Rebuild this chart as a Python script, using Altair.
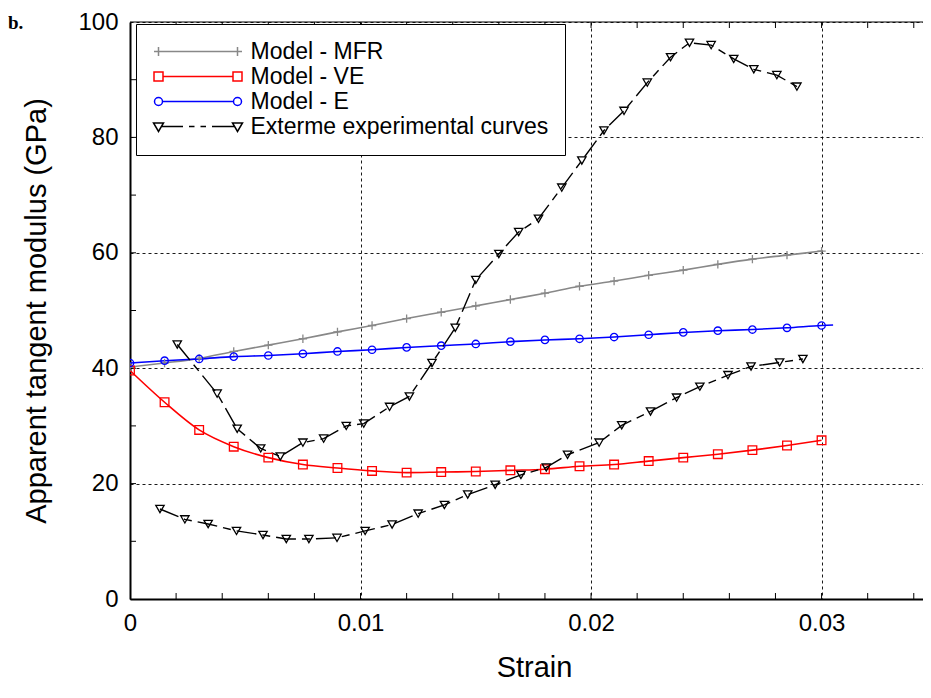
import altair as alt
import pandas as pd

# ---------------- data ----------------
strain_model = [0.0, 0.0015, 0.003, 0.0045, 0.006, 0.0075, 0.009, 0.0105, 0.012, 0.0135,
                0.015, 0.0165, 0.018, 0.0195, 0.021, 0.0225, 0.024, 0.0255, 0.027, 0.0285, 0.030]
model_mfr = [40.2, 40.9, 41.7, 42.9, 44.0, 45.1, 46.3, 47.4, 48.6, 49.7,
             50.8, 51.9, 53.0, 54.2, 55.1, 56.1, 57.0, 58.0, 58.9, 59.6, 60.3]
model_ve = [39.6, 34.1, 29.3, 26.4, 24.5, 23.3, 22.7, 22.2, 21.9, 22.0,
            22.1, 22.3, 22.5, 23.0, 23.3, 23.9, 24.5, 25.1, 25.8, 26.6, 27.5]
model_e = [40.9, 41.3, 41.6, 42.0, 42.2, 42.5, 42.9, 43.2, 43.6, 43.9,
           44.2, 44.6, 44.9, 45.1, 45.4, 45.8, 46.2, 46.5, 46.7, 47.0, 47.4]
model_e_tail_strain = [0.0305]
model_e_tail = [47.5]

exp_upper_strain = [0.00205, 0.00378, 0.00465, 0.00567, 0.00652, 0.0075, 0.0084, 0.00938,
                    0.01014, 0.01126, 0.01212, 0.0131, 0.01411, 0.0150, 0.0160, 0.01686,
                    0.01772, 0.01873, 0.0196, 0.02056, 0.02143, 0.02244, 0.02345, 0.02427,
                    0.02521, 0.02619, 0.02706, 0.02806, 0.02893]
exp_upper = [44.1, 35.6, 29.5, 26.1, 24.7, 27.1, 27.8, 30.0,
             30.4, 33.3, 35.1, 40.9, 47.0, 55.3, 59.8, 63.6,
             65.9, 71.3, 76.0, 81.2, 84.6, 89.5, 93.9, 96.4,
             96.0, 93.6, 91.8, 90.8, 88.8]

exp_lower_strain = [0.0013, 0.00238, 0.00339, 0.00462, 0.00577, 0.00678, 0.00776, 0.00898,
                    0.0102, 0.01137, 0.0125, 0.01364, 0.01465, 0.01584, 0.01696, 0.01806,
                    0.01898, 0.02035, 0.02133, 0.02258, 0.02371, 0.02472, 0.02594, 0.02694,
                    0.02818, 0.02919]
exp_lower = [15.6, 13.8, 13.0, 11.8, 11.1, 10.4, 10.4, 10.6,
             11.8, 12.9, 14.8, 16.3, 18.1, 19.8, 21.5, 22.8,
             25.0, 27.1, 30.1, 32.5, 34.9, 36.8, 38.8, 40.3,
             41.0, 41.6]

series_names = ["Model - MFR", "Model - VE", "Model - E", "Exterme experimental curves"]
series_colors = ["#888888", "#ff0000", "#0000ff", "#000000"]
series_curves = [["mfr"], ["ve"], ["e"], ["exp_upper", "exp_lower"]]

x_ticks = [0, 0.01, 0.02, 0.03]
y_ticks = [0, 20, 40, 60, 80, 100]
x_minor = [0.002, 0.004, 0.006, 0.008, 0.01, 0.012, 0.014, 0.016, 0.018, 0.02,
           0.022, 0.024, 0.026, 0.028, 0.03, 0.032, 0.034]
y_minor = [10, 20, 30, 40, 50, 60, 70, 80, 90]

# ---------------- tables ----------------
rows = []
def add(xs, ys, series, curve, marker=True):
    for x, y in zip(xs, ys):
        rows.append({"strain": x, "modulus": y, "series": series, "curve": curve, "marker": marker})

add(strain_model, model_mfr, series_names[0], "mfr")
add(strain_model, model_ve, series_names[1], "ve")
add(strain_model, model_e, series_names[2], "e")
add(model_e_tail_strain, model_e_tail, series_names[2], "e", marker=False)
add(exp_upper_strain, exp_upper, series_names[3], "exp_upper")
add(exp_lower_strain, exp_lower, series_names[3], "exp_lower")
df = pd.DataFrame(rows)
label_df = pd.DataFrame({"label": ["b."]})

W, H = 793, 577
FONT = "Liberation Sans, Arial, Helvetica, sans-serif"

x_scale = alt.Scale(domain=[0, 0.0344], nice=False, zero=False)
y_scale = alt.Scale(domain=[0, 100], nice=False)

x_axis = alt.Axis(values=x_ticks, format="~g", title="Strain", ticks=False, labelFlush=False,
                  labelPadding=12, titleX=404, titleY=77, titleAlign="center",
                  titleBaseline="alphabetic", titleAngle=0)
y_axis = alt.Axis(values=y_ticks, format="d", title="Apparent tangent modulus (GPa)",
                  ticks=False, labelFlush=False, labelPadding=12, titleX=-85, titleY=H / 2,
                  titleAlign="center", titleBaseline="alphabetic", titleAngle=270)

X = alt.X("strain:Q", scale=x_scale, axis=x_axis)
Y = alt.Y("modulus:Q", scale=y_scale, axis=y_axis)

base = alt.Chart(df)

line_layers = []
for name, col, curves in zip(series_names, series_colors, series_curves):
    sub = base.transform_filter(alt.FieldOneOfPredicate(field="curve", oneOf=curves))
    if name.startswith("Model"):
        ln = sub.mark_line(interpolate="monotone", strokeWidth=1.6, color=col, clip=True)
    else:
        ln = sub.mark_line(strokeWidth=1.4, color=col, strokeDash=[20, 6, 8, 6], clip=True)
    line_layers.append(ln.encode(x=X, y=Y, detail="curve:N"))

marker_shapes = ["M-1,0L1,0M0,-1L0,1", "square", "circle", "triangle-down"]
marker_sizes = [70, 75, 55, 70]
marker_layers = []
for name, col, shp, sz in zip(series_names, series_colors, marker_shapes, marker_sizes):
    marker_layers.append(
        base.transform_filter(
            (alt.datum.series == name) & (alt.datum.marker == True)
        ).mark_point(shape=shp, size=sz, filled=False, color=col, strokeWidth=1.3,
                     opacity=1, clip=True).encode(x=X, y=Y)
    )

# legend symbols: a line with a marker at each end (unit = 10 px at symbolSize 400)
legend_paths = [
    "M-3.95,0L3.95,0M-3.95,-0.45L-3.95,0.45M-4.4,0L-3.5,0M3.95,-0.45L3.95,0.45M3.5,0L4.4,0",
    "M-3.5,0L3.5,0M-4.4,-0.45L-3.5,-0.45L-3.5,0.45L-4.4,0.45ZM3.5,-0.45L4.4,-0.45L4.4,0.45L3.5,0.45Z",
    "M-3.55,0L3.55,0M-3.55,0A0.4,0.4 0 1,1 -4.35,0A0.4,0.4 0 1,1 -3.55,0M4.35,0A0.4,0.4 0 1,1 3.55,0A0.4,0.4 0 1,1 4.35,0",
    "M-4.45,-0.35L-3.45,-0.35L-3.95,0.5ZM3.45,-0.35L4.45,-0.35L3.95,0.5ZM-3.6,0L-1.5,0M-0.9,0L-0.35,0M0.25,0L0.8,0M1.4,0L3.6,0",
]
legend_layer = base.mark_point(opacity=0, filled=False).encode(
    x=X, y=Y,
    color=alt.Color("series:N", scale=alt.Scale(domain=series_names, range=series_colors),
                    legend=alt.Legend(title=None)),
    shape=alt.Shape("series:N", scale=alt.Scale(domain=series_names, range=legend_paths),
                    legend=alt.Legend(title=None)),
)

tick_df = pd.DataFrame({"strain": x_minor})
ytick_df = pd.DataFrame({"modulus": y_minor})
xt_bottom = alt.Chart(tick_df).mark_rule(color="black", strokeWidth=1).encode(
    x=X, y=alt.value(H - 6), y2=alt.value(H))
xt_top = alt.Chart(tick_df).mark_rule(color="black", strokeWidth=1).encode(
    x=X, y=alt.value(0), y2=alt.value(6))
yt_left = alt.Chart(ytick_df).mark_rule(color="black", strokeWidth=1).encode(
    y=Y, x=alt.value(0), x2=alt.value(6))
top_border = alt.Chart(label_df).mark_rule(color="black", strokeWidth=1.2).encode(
    x=alt.value(0), x2=alt.value(W), y=alt.value(0))

panel_label = alt.Chart(label_df).mark_text(
    font="Liberation Serif, Times New Roman, serif", fontWeight="bold", fontSize=19,
    align="left", baseline="alphabetic", color="black"
).encode(x=alt.value(-122), y=alt.value(7), text="label:N")

chart = alt.layer(
    xt_bottom, xt_top, yt_left, top_border, *line_layers, *marker_layers, legend_layer, panel_label
).properties(
    width=W, height=H,
    autosize=alt.AutoSizeParams(type="none"),
    padding={"left": 122, "top": 14, "right": 0, "bottom": 84},
    background="white",
).configure_view(
    strokeWidth=0
).configure_axis(
    domainColor="black", domainWidth=2,
    grid=True, gridColor="black", gridDash=[3, 3], gridWidth=0.9, gridOpacity=1,
    labelFont=FONT, labelFontSize=24, labelColor="black",
    titleFont=FONT, titleFontSize=29, titleFontWeight="normal", titleColor="black",
).configure_legend(
    orient="none", legendX=6, legendY=2,
    fillColor="white", strokeColor="black", padding=16,
    labelFont=FONT, labelFontSize=23, labelColor="black", labelLimit=500,
    labelOffset=41, symbolOffset=34.5,
    symbolSize=400, symbolStrokeWidth=1.5, symbolOpacity=1, rowPadding=1,
)

chart.save("out.html", embed_options={"renderer": "svg", "actions": False})
